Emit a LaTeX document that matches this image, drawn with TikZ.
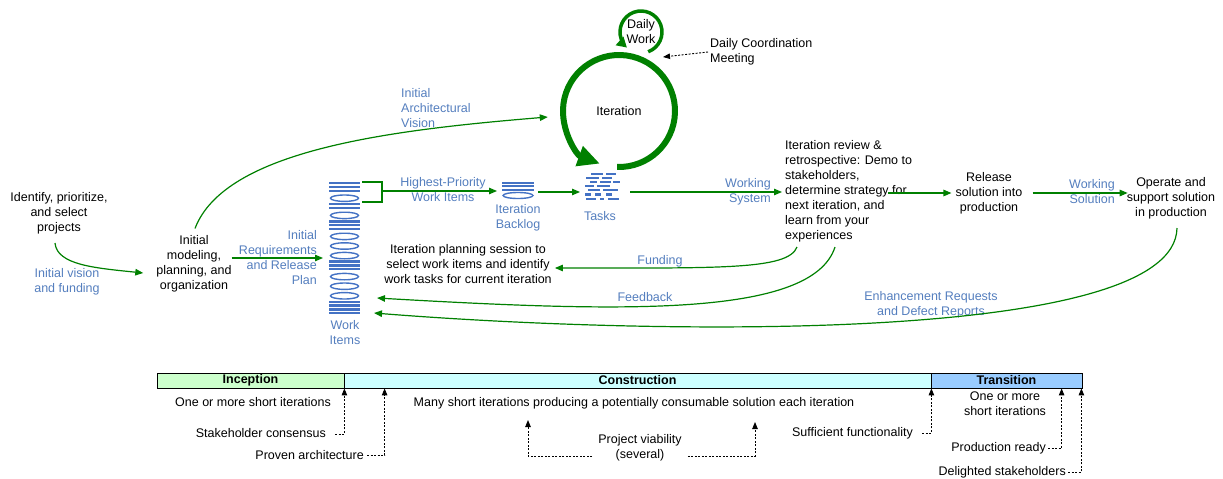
\documentclass[tikz,border=0pt]{standalone}
\usepackage{fontspec}
\setmainfont{Liberation Sans}
\usetikzlibrary{arrows.meta,calc}
\definecolor{ggreen}{RGB}{0,128,0}
\definecolor{lblue}{RGB}{84,126,190}
\definecolor{iblue}{RGB}{68,114,196}
\definecolor{incol}{RGB}{204,255,204}
\definecolor{concol}{RGB}{204,255,255}
\definecolor{trcol}{RGB}{153,204,255}
\newcommand\dfs{\fontsize{12.5}{15}\selectfont}
\begin{document}
\begin{tikzpicture}[x=1pt,y=-1pt,
  txt/.style={font=\dfs, align=center, inner sep=0pt},
  lbl/.style={txt, text=lblue},
  garrow/.style={draw=ggreen, line width=1.2pt, -{Triangle[length=8pt,width=6.5pt]}},
  gline/.style={draw=ggreen, line width=1.2pt},
  darrow/.style={draw=black, line width=0.9pt, dash pattern=on 2pt off 1.5pt, -{Triangle[length=7pt,width=5.5pt]}},
  phase/.style={draw=black, line width=0.8pt, font=\dfs\bfseries, inner sep=0pt, minimum height=15pt},
  iconbox/.style={inner sep=0pt, outer sep=0pt}
]
\useasboundingbox (0,0) rectangle (1223,479);

% ---------- text nodes (top) ----------
\node[txt] (ident) at (59,213) {Identify, prioritize,\\and select\\projects};
\node[lbl] (visionlbl) at (67,282) {Initial vision\\and funding};
\node[txt] (model) at (194,264) {Initial\\modeling,\\planning, and\\organization};
\node[lbl, anchor=east, align=right] (reqlbl) at (317,258) {Initial\\Requirements\\and Release\\Plan};
\node[lbl] (wilbl) at (345,333) {Work\\Items};
\node[lbl] (hplbl) at (443,190) {Highest-Priority\\Work Items};
\node[lbl] (bllbl) at (518,218) {Iteration\\Backlog};
\node[lbl] (tklbl) at (600,216) {Tasks};
\node[lbl, anchor=east, align=right] (wslbl) at (771,192) {Working\\System};
\node[txt, anchor=west, align=left] (review) at (785,191) {Iteration review \&\\retrospective: Demo to\\stakeholders,\\determine strategy for\\next iteration, and\\learn from your\\experiences};
\node[txt] (release) at (989,193) {Release\\solution into\\production};
\node[lbl, anchor=east, align=right] (wsollbl) at (1115,192) {Working\\Solution};
\node[txt] (op) at (1171,198) {Operate and\\support solution\\in production};
\node[txt] (ips) at (468,264) {Iteration planning session to\\select work items and identify\\work tasks for current iteration};
\node[lbl] (fundlbl) at (660,261) {Funding};
\node[lbl] (fblbl) at (645,297) {Feedback};
\node[lbl] (enhlbl) at (931,305) {Enhancement Requests\\and Defect Reports};
\node[lbl, anchor=west, align=left] (archlbl) at (401,108) {Initial\\Architectural\\Vision};
\node[txt, circle, minimum size=118pt] (it) at (619,111) {Iteration};
\node[txt, circle, minimum size=44pt] (dw) at (641,32) {Daily\\Work};
\node[txt, anchor=west, align=left] (dcm) at (710,52) {Daily Coordination\\Meeting};

% ---------- icons ----------
\node[iconbox, minimum width=31pt, minimum height=134pt] (wi) at (344.5,249) {};
\node[iconbox, minimum width=32pt, minimum height=18pt] (bl) at (518,190) {};
\node[iconbox, minimum width=36pt, minimum height=27pt] (tk) at (602,186.5) {};

\foreach \y in {182,185.8,189.6,203.0,206.8,220.2,224.0,227.8,260.4,264.2,268.0,300.6,304.4,308.2,312.0}
  \fill[iblue] (329,\y) rectangle (360,\y+2.4);
\foreach \c in {198.2,215.4,236.4,246.0,255.6,276.6,286.2,295.8}
  \draw[iblue, line width=1.4pt] (344.5,\c) ellipse[x radius=14, y radius=3.2];

\foreach \y in {181.5,185,188.5}
  \fill[iblue] (502,\y) rectangle (534,\y+2.2);
\draw[iblue, line width=1.4pt] (518,195.5) ellipse[x radius=15, y radius=3];

\foreach \y/\a/\b in {174/591/603, 174/606/616,
                      178/586/599, 178/602/612,
                      182/590/597, 182/600/611, 182/613/620,
                      186/585/594, 186/597/610,
                      190/588/600, 190/603/618,
                      194.5/585/591, 194.5/595/601, 194.5/606/612,
                      199/586/596, 199/600/604, 199/608/619}
  \fill[iblue] (\a,\y-1.1) rectangle (\b,\y+1.1);

% ---------- iteration loops ----------
\draw[ggreen, line width=6pt, -{Triangle[length=22pt,width=20pt]}]
  ($(it.center)+(92:56)$) arc[start angle=92, end angle=-250, radius=56];
\draw[ggreen, line width=3.5pt, -{Triangle[length=10pt,width=11pt]}]
  ($(dw.center)+(70:21)$) arc[start angle=70, end angle=-228, radius=21];
\draw[darrow] ($(dcm.west)+(-2,0)$) -- ($(dw.center)+(22,25)$);

% ---------- connectors ----------
\draw[garrow] ($(ident.south)+(-4,9)$) .. controls (57,265) and (95,268) .. ($(model.west)+(-13,9)$);
\draw[garrow] ($(model.north)+(1,-7)$) .. controls (225,150) and (390,130) .. ($(it.west)+(-12,6)$);
\draw[garrow] ($(model.east)+(0,-6)$) -- ($(wi.west)+(-6,9)$);
\draw[gline] ($(wi.north east)+(2,0)$) -- ++(20,0) -- ++(0,20) -- ++(-20,0);
\draw[garrow] ($(wi.north east)+(22,9)$) -- ($(bl.west)+(-5,1)$);
\draw[garrow] ($(bl.east)+(4,2)$) -- ($(tk.west)+(-4,5.5)$);
\draw[garrow] ($(tk.east)+(10,5.5)$) -- ($(review.west)+(-3,1)$);
\draw[garrow] ($(review.east)+(-24,2)$) -- ($(release.west)+(-4,0)$);
\draw[garrow] ($(release.east)+(10,0)$) -- ($(op.west)+(1,-5)$);
\draw[garrow] ($(review.south west)+(12,5)$) .. controls (788,270) and (720,268) .. ($(ips.east)+(3,4)$);
\draw[garrow] ($(review.south west)+(50,5)$) .. controls (812,318) and (620,312) .. ($(wi.east)+(17,49)$);
\draw[garrow] ($(op.south)+(6,9)$) .. controls (1175,345) and (650,335) .. ($(wi.east)+(14,64)$);

% ---------- phase bar ----------
\node[phase, fill=incol, minimum width=187pt] (inc) at (250.5,380.5) {Inception};
\node[phase, fill=concol, minimum width=587pt] (con) at (637.5,380.5) {Construction};
\node[phase, fill=trcol, minimum width=151pt] (tra) at (1006.5,380.5) {Transition};

\node[txt] (incit) at (253,402) {One or more short iterations};
\node[txt] (mst) at (634,403) {Many short iterations producing a potentially consumable solution each iteration};
\node[txt] (trit) at (1005,403.5) {One or more\\short iterations};
\node[txt, anchor=east] (sc) at (326,433) {Stakeholder consensus};
\node[txt, anchor=east] (pa) at (364,455) {Proven architecture};
\node[txt] (pv) at (640,448) {Project viability\\(several)};
\node[txt, anchor=east] (sf) at (913,433) {Sufficient functionality};
\node[txt, anchor=east] (pr) at (1046,448) {Production ready};
\node[txt, anchor=east] (ds) at (1066,472) {Delighted stakeholders};

\coordinate (pvL) at (528,420);
\coordinate (pvR) at (755,422);
\draw[darrow] ($(sc.east)+(9,1)$) -| (inc.south east);
\draw[darrow] ($(pa.east)+(3,0)$) -| ($(con.south west)+(41,0)$);
\draw[darrow] ($(pv.west)+(-6,8)$) -| (pvL);
\draw[darrow] ($(pv.east)+(6,8)$) -| (pvR);
\draw[darrow] ($(sf.east)+(9,0)$) -| (con.south east);
\draw[darrow] ($(pr.east)+(2,0)$) -| ($(tra.south west)+(131,0)$);
\draw[darrow] ($(ds.east)+(2,0)$) -| ($(tra.south east)+(-1,0)$);
\end{tikzpicture}
\end{document}
